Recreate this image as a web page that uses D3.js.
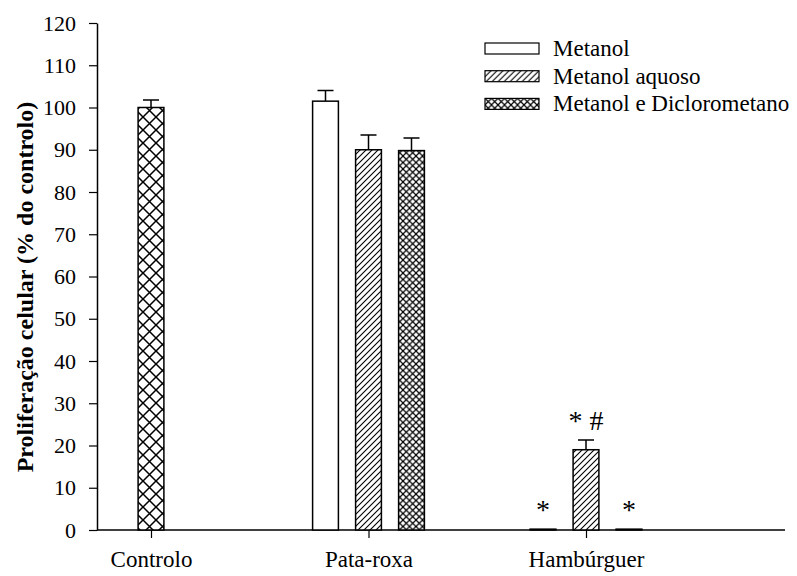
<!DOCTYPE html>
<html>
<head>
<meta charset="utf-8">
<script src="https://cdn.jsdelivr.net/npm/d3@7"></script>
<style>
  body { margin: 0; background: #fff; }
  svg text { font-family: "Liberation Serif", "Times New Roman", serif; fill: #000; }
</style>
</head>
<body>
<div id="chart"></div>
<script>
var svgWidth = 797;
var svgHeight = 576;

// data
var categories = ["Controlo", "Pata-roxa", "Hambúrguer"];
var series = ["Metanol", "Metanol aquoso", "Metanol e Diclorometano"];
var controlValue = 100;
var controlError = 1.8;
var metanol = [null, 101.5, 0.2];
var metanolError = [null, 2.5, 0];
var aquoso = [null, 90, 19];
var aquosoError = [null, 3.5, 2.3];
var dicloro = [null, 89.8, 0.2];
var dicloroError = [null, 3, 0];
var marks = [null, null, ["*", "* #", "*"]];
var yTicks = [0, 10, 20, 30, 40, 50, 60, 70, 80, 90, 100, 110, 120];

var values = [metanol, aquoso, dicloro];
var errors = [metanolError, aquosoError, dicloroError];

var plotLeft = 97, plotRight = 785, plotTop = 23, plotBottom = 530;

var svg = d3.select("#chart")
  .append("svg")
  .attr("width", svgWidth)
  .attr("height", svgHeight);

// patterns
var defs = svg.append("defs");

function crossPattern(id, size, sw) {
  var p = defs.append("pattern")
    .attr("id", id)
    .attr("patternUnits", "userSpaceOnUse")
    .attr("width", size)
    .attr("height", size);
  p.append("rect").attr("width", size).attr("height", size).attr("fill", "#fff");
  p.append("path")
    .attr("d", `M0,0L${size},${size}M${size},0L0,${size}`)
    .attr("stroke", "#000")
    .attr("stroke-width", sw);
}

crossPattern("crossBig", 13, 1.5);
crossPattern("crossSmall", 6.5, 1.2);

var hatch = defs.append("pattern")
  .attr("id", "hatch")
  .attr("patternUnits", "userSpaceOnUse")
  .attr("width", 6)
  .attr("height", 6);
hatch.append("rect").attr("width", 6).attr("height", 6).attr("fill", "#fff");
hatch.append("path")
  .attr("d", "M0,6L6,0M-1.5,1.5L1.5,-1.5M4.5,7.5L7.5,4.5")
  .attr("stroke", "#000")
  .attr("stroke-width", 1.1);

var fills = ["#fff", "url(#hatch)", "url(#crossSmall)"];

// scales
var yScale = d3.scaleLinear()
  .domain([0, 120])
  .range([plotBottom, plotTop]);

var xScale = d3.scalePoint()
  .domain(categories)
  .range([151, 586]);

var inner = d3.scaleBand()
  .domain(series)
  .range([-64.5, 64.5])
  .paddingInner(0.4)
  .paddingOuter(0.2);

var bw = inner.bandwidth();

// y axis
var leftAxis = d3.axisLeft(yScale)
  .tickValues(yTicks)
  .tickSize(8)
  .tickPadding(13)
  .tickSizeOuter(0);

var yG = svg.append("g")
  .attr("transform", `translate(${plotLeft}, 0)`)
  .call(leftAxis);
yG.attr("font-family", null).attr("font-size", null);
yG.select(".domain").attr("stroke-width", 1.5);
yG.selectAll(".tick line").attr("stroke-width", 1.2);
yG.selectAll(".tick text").style("font-size", "22px");

// x axis
var bottomAxis = d3.axisBottom(xScale)
  .tickSize(8)
  .tickPadding(13)
  .tickSizeOuter(0);

var xG = svg.append("g")
  .attr("transform", `translate(0, ${plotBottom})`)
  .call(bottomAxis);
xG.attr("font-family", null).attr("font-size", null);
xG.select(".domain").remove();
xG.selectAll(".tick line").attr("stroke-width", 1.2);
xG.selectAll(".tick text").style("font-size", "23px");

svg.append("line")
  .attr("x1", plotLeft)
  .attr("x2", plotRight)
  .attr("y1", plotBottom)
  .attr("y2", plotBottom)
  .attr("stroke", "#000")
  .attr("stroke-width", 1.5);

function errorBar(cx, v, e) {
  if (!e) return;
  svg.append("path")
    .attr("d", `M${cx},${yScale(v)}V${yScale(v + e)}M${cx - 8},${yScale(v + e)}H${cx + 8}`)
    .attr("stroke", "#000")
    .attr("stroke-width", 1.5)
    .attr("fill", "none");
}

// control bar
var cx0 = xScale(categories[0]);
errorBar(cx0, controlValue, controlError);
svg.append("rect")
  .attr("x", cx0 - bw / 2)
  .attr("y", yScale(controlValue))
  .attr("width", bw)
  .attr("height", yScale(0) - yScale(controlValue))
  .attr("fill", "url(#crossBig)")
  .attr("stroke", "#000")
  .attr("stroke-width", 1.5);

// extract bars
categories.forEach(function (c, i) {
  if (i === 0) return;
  series.forEach(function (s, j) {
    var v = values[j][i];
    var cx = xScale(c) + inner(s) + bw / 2;
    errorBar(cx, v, errors[j][i]);
    svg.append("rect")
      .attr("x", cx - bw / 2)
      .attr("y", yScale(v))
      .attr("width", bw)
      .attr("height", yScale(0) - yScale(v))
      .attr("fill", fills[j])
      .attr("stroke", "#000")
      .attr("stroke-width", 1.5);
    if (marks[i]) {
      svg.append("text")
        .attr("x", cx)
        .attr("y", yScale(v + errors[j][i]) - 10)
        .attr("text-anchor", "middle")
        .style("font-size", "28px")
        .text(marks[i][j]);
    }
  });
});

// legend
var legend = svg.append("g")
  .attr("transform", "translate(485, 43)");

series.forEach(function (s, j) {
  var g = legend.append("g").attr("transform", `translate(0, ${j * 27.7})`);
  g.append("rect")
    .attr("width", 54)
    .attr("height", 11)
    .attr("fill", fills[j])
    .attr("stroke", "#000")
    .attr("stroke-width", 1.2);
  g.append("text")
    .attr("x", 68)
    .attr("y", 13)
    .style("font-size", "23px")
    .text(s);
});

// y label
svg.append("text")
  .attr("transform", `translate(33, 287) rotate(-90)`)
  .attr("text-anchor", "middle")
  .style("font-size", "24px")
  .style("font-weight", "bold")
  .text("Proliferação celular (% do controlo)");
</script>
</body>
</html>
